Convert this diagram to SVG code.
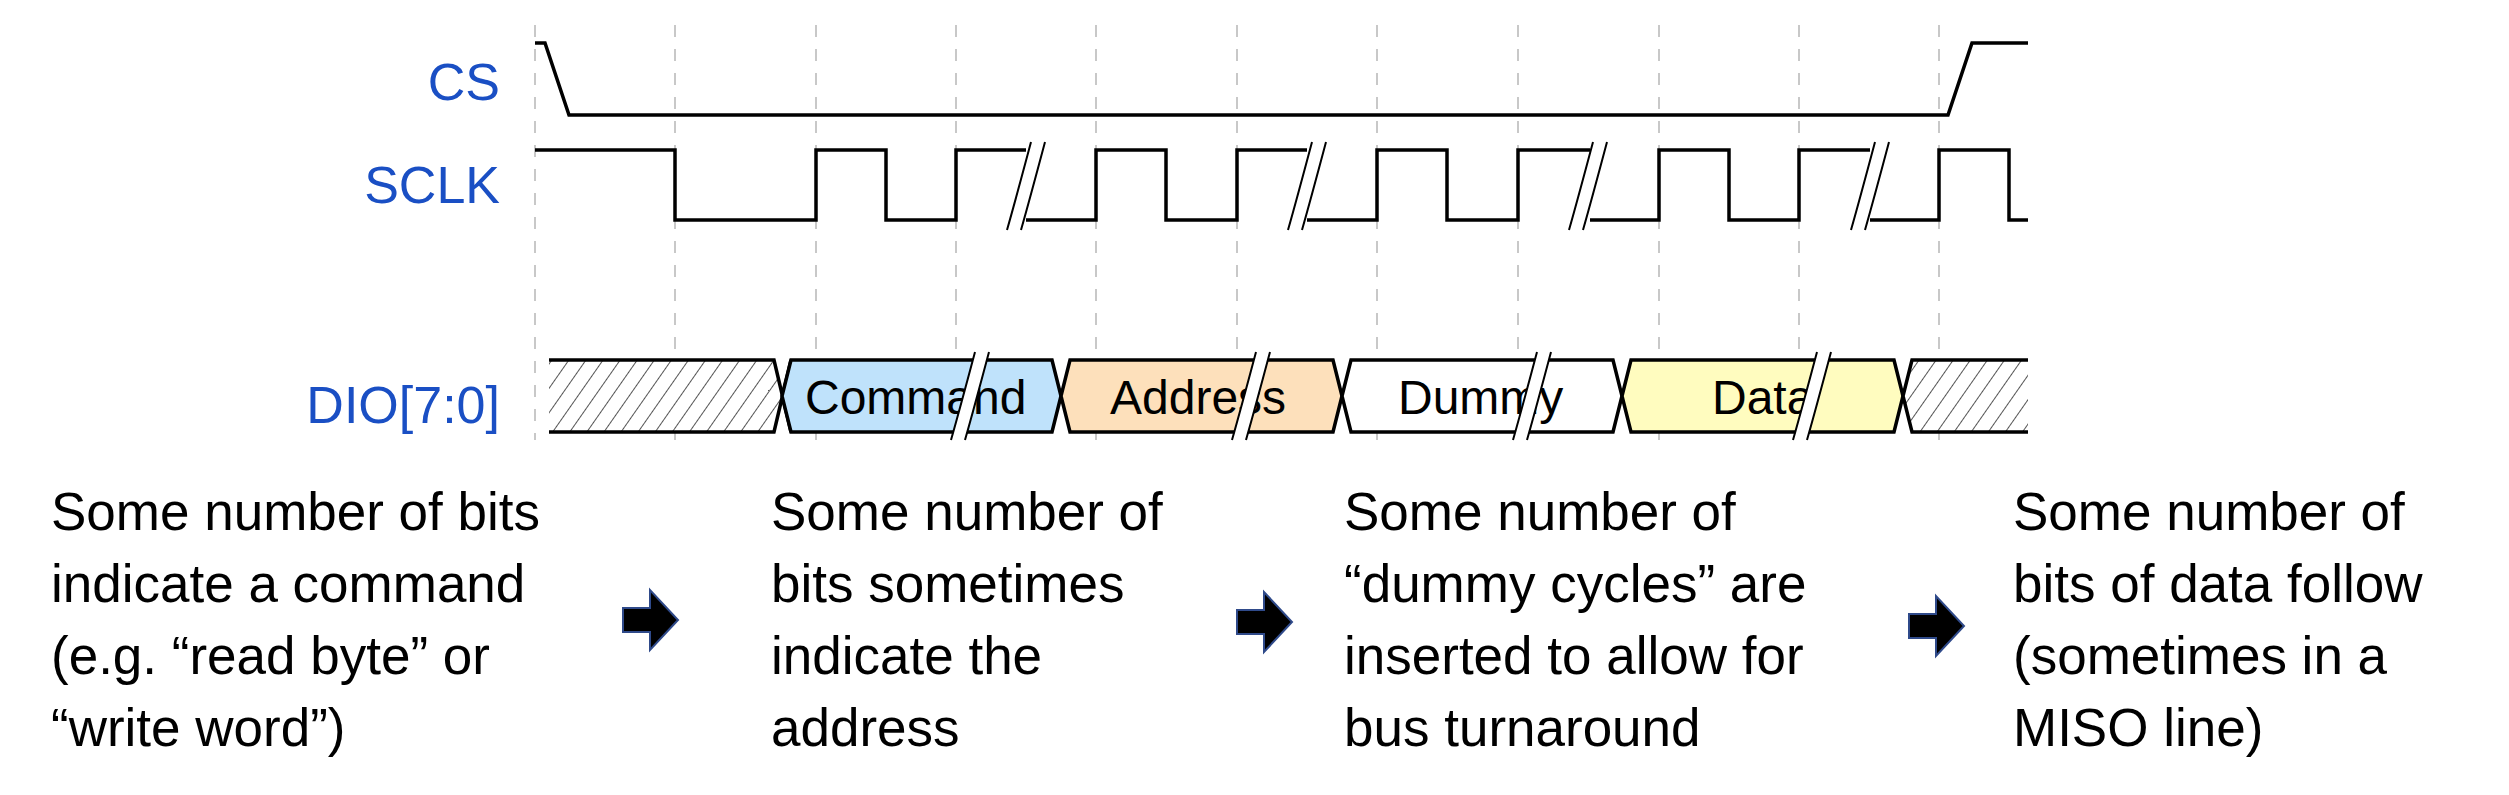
<svg xmlns="http://www.w3.org/2000/svg" width="2509" height="795" viewBox="0 0 2509 795">
<defs>
<pattern id="hatch" width="14" height="14" patternUnits="userSpaceOnUse" patternTransform="rotate(35)">
<rect width="14" height="14" fill="#fff"/><line x1="0" y1="0" x2="0" y2="14" stroke="#555" stroke-width="2"/>
</pattern>
<path id="arrow" d="M0,18 H27 V0 L55,30 L27,60 V42 H0 Z" fill="#000" stroke="#2F4A8A" stroke-width="2"/>
<g id="brk"><polygon points="0,88 14,88 38,0 24,0" fill="#fff"/><path d="M0,88 C8,60 16,30 24,0 M14,88 C22,60 30,30 38,0" stroke="#000" stroke-width="2" fill="none"/></g>
</defs>
<style>
.sig{font-family:"Liberation Sans",Arial,sans-serif;font-size:52px;fill:#1a4fc4;text-anchor:end}
.grid{stroke:#c8c8c8;stroke-width:2;stroke-dasharray:12,12}
.w{fill:none;stroke:#000;stroke-width:3.5}
.lbl{font-family:"Liberation Sans",Arial,sans-serif;font-size:48px;fill:#000}
.desc{font-family:"Liberation Sans",Arial,sans-serif;font-size:53px;fill:#000}
</style>
<rect width="2509" height="795" fill="#fff"/>
<g id="grid">
<line class="grid" x1="535" y1="25" x2="535" y2="440"/>
<line class="grid" x1="675" y1="25" x2="675" y2="440"/>
<line class="grid" x1="816" y1="25" x2="816" y2="440"/>
<line class="grid" x1="956" y1="25" x2="956" y2="440"/>
<line class="grid" x1="1096" y1="25" x2="1096" y2="440"/>
<line class="grid" x1="1237" y1="25" x2="1237" y2="440"/>
<line class="grid" x1="1377" y1="25" x2="1377" y2="440"/>
<line class="grid" x1="1518" y1="25" x2="1518" y2="440"/>
<line class="grid" x1="1659" y1="25" x2="1659" y2="440"/>
<line class="grid" x1="1799" y1="25" x2="1799" y2="440"/>
<line class="grid" x1="1939" y1="25" x2="1939" y2="440"/>
</g>
<g id="labels">
<text class="sig" x="500" y="100">CS</text>
<text class="sig" x="500" y="203">SCLK</text>
<text class="sig" x="500" y="423">DIO[7:0]</text>
</g>
<g id="cs"><path class="w" d="M535,43 H545 L569,115 H1948 L1972,43 H2028"/></g>
<g id="sclk">
<path class="w" d="M535,150 H675 V220 H816 V150 H886 V220 H956 V150 H1026 M1026,220 H1096 V150 H1166 V220 H1237 V150 H1307 M1307,220 H1377 V150 H1447 V220 H1518 V150 H1590 M1590,220 H1659 V150 H1729 V220 H1799 V150 H1870 M1870,220 H1939 V150 H2009 V220 H2028"/>
</g>
<g id="dio">
<polygon points="549,360 774,360 782,396 774,432 549,432" fill="url(#hatch)"/>
<path class="w" d="M549,360 H774 L791,432 M549,432 H774 L791,360"/>
<polygon points="791,360 1052,360 1061,396 1052,432 791,432 782,396" fill="#bfe2fb" stroke="#000" stroke-width="3.5"/>
<polygon points="1070,360 1333,360 1342,396 1333,432 1070,432 1061,396" fill="#fde0bb" stroke="#000" stroke-width="3.5"/>
<polygon points="1351,360 1613,360 1622,396 1613,432 1351,432 1342,396" fill="#fff" stroke="#000" stroke-width="3.5"/>
<polygon points="1631,360 1894,360 1903,396 1894,432 1631,432 1622,396" fill="#fffcbf" stroke="#000" stroke-width="3.5"/>
<polygon points="1912,360 2028,360 2028,432 1912,432 1903,396" fill="url(#hatch)"/>
<path class="w" d="M2028,360 H1912 L1903,396 L1912,432 H2028"/>
<text class="lbl" x="805" y="414">Command</text>
<text class="lbl" x="1110" y="414">Address</text>
<text class="lbl" x="1398" y="414">Dummy</text>
<text class="lbl" x="1712" y="414">Data</text>
</g>
<g id="breaks">
<use href="#brk" x="1007" y="142"/>
<use href="#brk" x="1288" y="142"/>
<use href="#brk" x="1569" y="142"/>
<use href="#brk" x="1851" y="142"/>
<use href="#brk" x="951" y="352"/>
<use href="#brk" x="1232" y="352"/>
<use href="#brk" x="1513" y="352"/>
<use href="#brk" x="1793" y="352"/>
</g>
<g id="desc1"><text class="desc"><tspan x="51" y="530">Some number of bits</tspan><tspan x="51" y="602">indicate a command</tspan><tspan x="51" y="674">(e.g. “read byte” or</tspan><tspan x="51" y="746">“write word”)</tspan></text></g>
<g id="desc2"><text class="desc"><tspan x="771" y="530">Some number of</tspan><tspan x="771" y="602">bits sometimes</tspan><tspan x="771" y="674">indicate the</tspan><tspan x="771" y="746">address</tspan></text></g>
<g id="desc3"><text class="desc"><tspan x="1344" y="530">Some number of</tspan><tspan x="1344" y="602">“dummy cycles” are</tspan><tspan x="1344" y="674">inserted to allow for</tspan><tspan x="1344" y="746">bus turnaround</tspan></text></g>
<g id="desc4"><text class="desc"><tspan x="2013" y="530">Some number of</tspan><tspan x="2013" y="602">bits of data follow</tspan><tspan x="2013" y="674">(sometimes in a</tspan><tspan x="2013" y="746">MISO line)</tspan></text></g>
<g id="connectors">
<use href="#arrow" x="623" y="590"/>
<use href="#arrow" x="1237" y="592"/>
<use href="#arrow" x="1909" y="596"/>
</g>
</svg>
